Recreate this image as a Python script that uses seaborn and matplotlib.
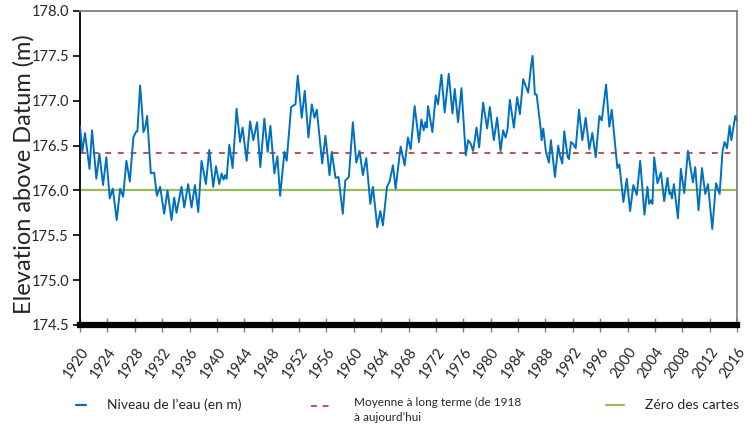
import matplotlib
matplotlib.use("Agg")
import matplotlib.pyplot as plt
from matplotlib.lines import Line2D
import pandas as pd
import seaborn as sns

# Water level record (decimal year, elevation in metres above datum)
years = [
    1920.00, 1920.34, 1920.73, 1921.39, 1921.76, 1922.39, 1922.83, 1923.37, 1923.85, 1924.35,
    1924.79, 1925.37, 1925.86, 1926.30, 1926.78, 1927.28, 1927.80, 1928.16, 1928.39, 1928.78,
    1929.03, 1929.27, 1929.52, 1929.81, 1930.35, 1930.83, 1931.23, 1931.71, 1932.30, 1932.78,
    1933.37, 1933.76, 1934.10, 1934.83, 1935.23, 1935.81, 1936.30, 1936.79, 1937.28, 1937.76,
    1938.40, 1938.89, 1939.47, 1939.87, 1940.35, 1940.69, 1940.98, 1941.19, 1941.42, 1941.82,
    1942.30, 1942.88, 1943.38, 1943.76, 1944.35, 1944.85, 1945.33, 1945.87, 1946.35, 1946.94,
    1947.42, 1947.82, 1948.40, 1948.84, 1949.24, 1949.87, 1950.20, 1950.85, 1951.48, 1951.82,
    1952.40, 1952.84, 1953.38, 1953.87, 1954.26, 1954.60, 1955.39, 1955.87, 1956.46, 1956.79,
    1957.34, 1957.77, 1958.40, 1958.76, 1959.28, 1959.87, 1960.37, 1960.85, 1961.33, 1961.83,
    1962.42, 1962.80, 1963.44, 1963.88, 1964.26, 1964.85, 1965.24, 1965.73, 1966.12, 1966.85,
    1967.44, 1967.92, 1968.32, 1968.90, 1969.53, 1969.88, 1970.22, 1970.47, 1970.66, 1970.85,
    1971.49, 1971.98, 1972.31, 1972.81, 1973.29, 1973.88, 1974.42, 1974.76, 1975.24, 1975.74,
    1976.37, 1976.71, 1977.10, 1977.44, 1977.94, 1978.32, 1978.90, 1979.49, 1979.88, 1980.47,
    1980.95, 1981.45, 1981.83, 1982.18, 1982.47, 1982.81, 1983.40, 1983.88, 1984.28, 1984.76,
    1985.49, 1985.89, 1986.13, 1986.47, 1986.72, 1987.31, 1987.45, 1987.69, 1988.08, 1988.52,
    1988.81, 1989.40, 1989.88, 1990.13, 1990.47, 1990.76, 1991.26, 1991.45, 1991.74, 1992.04,
    1992.43, 1992.91, 1993.40, 1993.89, 1994.42, 1994.86, 1995.36, 1995.89, 1996.24, 1996.87,
    1997.35, 1997.70, 1998.52, 1998.81, 1999.40, 1999.90, 2000.38, 2000.86, 2001.36, 2001.85,
    2002.48, 2002.91, 2003.16, 2003.41, 2003.65, 2003.90, 2004.38, 2004.88, 2005.36, 2005.84,
    2006.13, 2006.34, 2006.49, 2006.78, 2007.37, 2007.80, 2008.29, 2008.83, 2009.56, 2009.90,
    2010.38, 2010.88, 2011.36, 2011.76, 2012.39, 2012.93, 2013.46, 2013.89, 2014.19, 2014.54,
    2014.92, 2015.17, 2015.75, 2016.00,
]
levels = [
    176.72, 176.43, 176.64, 176.24, 176.67, 176.13, 176.41, 176.06, 176.37, 175.91,
    176.02, 175.67, 176.02, 175.93, 176.33, 176.10, 176.59, 176.65, 176.66, 177.17,
    176.93, 176.65, 176.70, 176.83, 176.19, 176.20, 175.94, 176.04, 175.74, 176.00,
    175.67, 175.92, 175.75, 176.04, 175.81, 176.07, 175.81, 176.06, 175.76, 176.33,
    176.07, 176.45, 176.04, 176.27, 176.07, 176.19, 176.12, 176.17, 176.13, 176.51,
    176.25, 176.91, 176.54, 176.70, 176.33, 176.77, 176.56, 176.76, 176.26, 176.80,
    176.43, 176.72, 176.19, 176.38, 175.94, 176.43, 176.33, 176.93, 176.96, 177.28,
    176.81, 177.11, 176.59, 176.96, 176.81, 176.90, 176.30, 176.61, 176.17, 176.43,
    176.14, 176.15, 175.74, 176.11, 176.15, 176.76, 176.31, 176.44, 176.17, 176.36,
    175.85, 176.04, 175.59, 175.77, 175.61, 176.04, 176.10, 176.28, 176.02, 176.49,
    176.28, 176.59, 176.46, 176.94, 176.54, 176.79, 176.67, 176.76, 176.70, 176.94,
    176.65, 177.06, 176.96, 177.29, 176.87, 177.30, 176.86, 177.13, 176.76, 177.14,
    176.39, 176.56, 176.52, 176.44, 176.70, 176.48, 176.98, 176.69, 176.93, 176.56,
    176.81, 176.44, 176.67, 176.59, 176.68, 177.01, 176.70, 177.04, 176.85, 177.24,
    177.09, 177.38, 177.50, 177.07, 177.07, 176.69, 176.56, 176.69, 176.43, 176.31,
    176.56, 176.15, 176.50, 176.39, 176.30, 176.66, 176.37, 176.35, 176.54, 176.52,
    176.47, 176.90, 176.56, 176.81, 176.46, 176.64, 176.37, 176.83, 176.78, 177.18,
    176.71, 176.90, 176.25, 176.29, 175.87, 176.13, 175.77, 176.06, 175.95, 176.33,
    175.73, 176.04, 175.85, 175.89, 175.85, 176.37, 176.08, 176.20, 175.88, 176.14,
    175.96, 175.98, 175.91, 176.07, 175.69, 176.24, 175.97, 176.44, 176.09, 176.26,
    175.78, 176.25, 175.96, 176.07, 175.57, 176.08, 175.96, 176.44, 176.54, 176.47,
    176.72, 176.56, 176.83, 176.78,
]
long_term_mean = 176.42   # Moyenne à long terme
chart_datum = 176.0       # Zéro des cartes

x_ticks = list(range(1920, 2017, 4))
y_ticks = [174.5, 175.0, 175.5, 176.0, 176.5, 177.0, 177.5, 178.0]

legend_labels = [
    "Niveau de l\u2019eau (en m)",
    "Moyenne \u00e0 long terme (de 1918\n\u00e0 aujourd\u2019hui",
    "Z\u00e9ro des cartes",
]

BLUE = "#0070C0"
RED = "#C0504D"
GREEN = "#9BBB59"

sns.set_theme(style="white")
plt.rcParams["font.family"] = ["Lato", "DejaVu Sans"]

W, H = 753, 428
fig = plt.figure(figsize=(W / 100, H / 100), dpi=100)
ax = fig.add_axes([80 / W, 1 - 325 / H, (737 - 80) / W, (325 - 11) / H])

df = pd.DataFrame({"year": years, "level": levels})
ax.axhline(long_term_mean, color=RED, linestyle=(0, (3, 3.5)), linewidth=1.4, zorder=2)
ax.axhline(chart_datum, color=GREEN, linewidth=1.6, zorder=2)
sns.lineplot(data=df, x="year", y="level", ax=ax, color=BLUE, linewidth=1.4,
             sort=False, zorder=3)

ax.set_xlim(1920, 2016)
ax.set_ylim(174.5, 178.0)
ax.set_xticks(x_ticks)
ax.set_xticklabels([str(y) for y in x_ticks], rotation=55, ha="right",
                   rotation_mode="anchor", fontsize=10.5)
ax.set_yticks(y_ticks)
ax.set_yticklabels([f"{v:.1f}" for v in y_ticks], fontsize=10.5)
ax.set_xlabel("")
ax.set_ylabel("Elevation above Datum (m)", fontsize=17)
ax.yaxis.set_label_coords(-0.069, 0.48)

for side in ("top", "right"):
    ax.spines[side].set_color("#808080")
    ax.spines[side].set_linewidth(1.3)
ax.spines["left"].set_color("black")
ax.spines["left"].set_linewidth(1.3)
ax.spines["bottom"].set_color("black")
ax.spines["bottom"].set_linewidth(4.5)

ax.tick_params(axis="y", which="major", direction="out", length=5, width=1.2,
               color="black", left=True, pad=3)
ax.tick_params(axis="x", which="major", direction="inout", length=10, width=1.0,
               color="#808080", bottom=True, pad=9)

# Legend row under the axis
def fx(px):
    return px / W

def fy(py):
    return 1 - py / H

fig.add_artist(Line2D([fx(76), fx(86)], [fy(405), fy(405)], color=BLUE, linewidth=1.6))
fig.text(fx(107), fy(405), legend_labels[0], fontsize=10, va="center", ha="left")
fig.add_artist(Line2D([fx(311), fx(332)], [fy(406), fy(406)], color=RED,
                      linewidth=1.4, linestyle=(0, (3, 3))))
fig.text(fx(354), fy(410), legend_labels[1], fontsize=8.5, va="center", ha="left",
         linespacing=1.5)
fig.add_artist(Line2D([fx(606), fx(624)], [fy(405), fy(405)], color=GREEN, linewidth=1.6))
fig.text(fx(645), fy(405), legend_labels[2], fontsize=10, va="center", ha="left")

fig.savefig("out.png", dpi=100)
